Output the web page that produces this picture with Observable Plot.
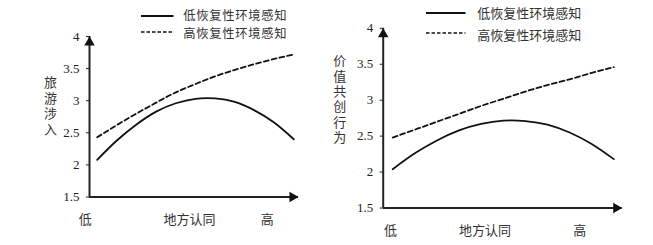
<!DOCTYPE html>
<html><head><meta charset="utf-8">
<script src="https://cdn.jsdelivr.net/npm/d3@7"></script>
<script src="https://cdn.jsdelivr.net/npm/@observablehq/plot@0.6"></script>
<style>
body{margin:0;background:#fff;}
#wrap{position:relative;width:653px;height:245px;overflow:hidden;font-family:"Liberation Serif","Noto Sans CJK SC",serif;color:#333;}
.p{position:absolute;top:0;}
.legline{position:absolute;display:block;}
.legtext{position:absolute;display:flex;align-items:center;height:16px;font-family:"Noto Sans CJK SC",sans-serif;color:#333;white-space:nowrap;}
.yt{position:absolute;writing-mode:vertical-rl;text-orientation:upright;font-size:13px;line-height:14px;font-family:"Noto Sans CJK SC",sans-serif;color:#333;white-space:nowrap;}
</style></head>
<body><div id="wrap"></div>
<script>
// ---- data ----
const identity = [0, 0.1, 0.2, 0.3, 0.4, 0.5, 0.6, 0.7, 0.8, 0.9, 1];
const seriesNames = ["低恢复性环境感知", "高恢复性环境感知"];
const lowLeft   = [2.08, 2.38, 2.63, 2.83, 2.96, 3.03, 3.035, 2.98, 2.85, 2.66, 2.40];
const highLeft  = [2.43, 2.62, 2.80, 2.97, 3.13, 3.26, 3.38, 3.48, 3.57, 3.65, 3.72];
const lowRight  = [2.04, 2.26, 2.44, 2.58, 2.67, 2.715, 2.71, 2.66, 2.55, 2.39, 2.18];
const highRight = [2.48, 2.59, 2.70, 2.81, 2.92, 3.02, 3.12, 3.21, 3.29, 3.38, 3.46];
const yTicks = [1.5, 2, 2.5, 3, 3.5, 4];
const xLabels = ["低", "地方认同", "高"];
const xLabelPosLeft = [-0.06, 0.47, 0.865];
const xLabelPosRight = [-0.01, 0.418, 0.846];
const yTitles = ["旅游涉入", "价值共创行为"];

const wrap = document.getElementById("wrap");

function chart(o) {
  const rows = [];
  identity.forEach((x, i) => {
    rows.push({x, y: o.low[i], s: seriesNames[0]});
    rows.push({x, y: o.high[i], s: seriesNames[1]});
  });
  const labelMap = new Map(o.labelPos.map((p, i) => [p, xLabels[i]]));
  const yDom = [yTicks[0], yTicks[yTicks.length - 1]];
  const svg = Plot.plot({
    width: o.width, height: 245,
    marginLeft: o.ml, marginRight: o.mr, marginTop: o.mt, marginBottom: o.mb,
    style: {fontFamily: "'Liberation Serif',serif", fontSize: "13px", color: "#222", background: "transparent", overflow: "visible"},
    x: {domain: o.xDomain},
    y: {domain: yDom},
    marks: [
      Plot.axisY({ticks: yTicks, tickSize: 3, tickPadding: 7, tickFormat: d => String(d), label: null}),
      Plot.axisX({ticks: o.labelPos, tickSize: 0, tickPadding: 17.5, tickFormat: d => labelMap.get(d), label: null, fontFamily: "'Noto Sans CJK SC',sans-serif", fill: "#333"}),
      Plot.ruleX([o.xDomain[0]], {y1: yDom[0], y2: yDom[1], stroke: "#222", strokeWidth: 2}),
      Plot.ruleY([yDom[0]], {stroke: "#222", strokeWidth: 2}),
      Plot.dot([yDom[1]], {x: () => o.xDomain[0], y: d => d, symbol: "triangle", r: 3.9, fill: "#111", stroke: "none", dy: 6}),
      Plot.dot([o.xDomain[1]], {x: d => d, y: () => yDom[0], symbol: "triangle", r: 3.9, fill: "#111", stroke: "none", rotate: 90, dx: -6}),
      Plot.line(rows.filter(d => d.s === seriesNames[0]), {x: "x", y: "y", curve: "natural", stroke: "#111", strokeWidth: 1.8}),
      Plot.line(rows.filter(d => d.s === seriesNames[1]), {x: "x", y: "y", curve: "natural", stroke: "#111", strokeWidth: 1.8, strokeDasharray: "5,3"})
    ]
  });
  svg.classList.add("p");
  svg.style.left = o.left + "px";
  wrap.appendChild(svg);
}

chart({left: 0, width: 330, ml: 89, mr: 32, mt: 36, mb: 48.5, xDomain: [-0.039, 1.024], low: lowLeft, high: highLeft, labelPos: xLabelPosLeft});
chart({left: 320, width: 333, ml: 62.7, mr: 31.3, mt: 27.8, mb: 37.5, xDomain: [-0.043, 1.038], low: lowRight, high: highRight, labelPos: xLabelPosRight});

function legendRow(x0, len, lineY, tx, textY, dashed, fs, ls) {
  const s = document.createElementNS("http://www.w3.org/2000/svg", "svg");
  s.setAttribute("class", "legline");
  s.setAttribute("width", len);
  s.setAttribute("height", 4);
  s.style.left = x0 + "px";
  s.style.top = (lineY - 2) + "px";
  s.innerHTML = `<line x1="0" x2="${len}" y1="2" y2="2" stroke="#111" stroke-width="${dashed ? 1.6 : 2}" ${dashed ? 'stroke-dasharray="3.5,2"' : ''}/>`;
  wrap.appendChild(s);
  const d = document.createElement("div");
  d.className = "legtext";
  d.style.left = tx + "px";
  d.style.top = (textY - 8) + "px";
  d.style.fontSize = fs + "px";
  d.style.letterSpacing = ls + "px";
  d.textContent = dashed ? seriesNames[1] : seriesNames[0];
  wrap.appendChild(d);
}
legendRow(141, 32.5, 15.7, 183.3, 15, false, 12.3, 0.7);
legendRow(141, 32.5, 32.3, 183.3, 33.2, true, 12.3, 0.7);
legendRow(426, 39.5, 13.3, 477.3, 12, false, 13, 0);
legendRow(426, 39.5, 32.7, 477.3, 34.5, true, 13, 0);

function yTitle(text, cx, firstCy, spacing) {
  const d = document.createElement("div");
  d.className = "yt";
  d.style.left = (cx - 7) + "px";
  d.style.top = (firstCy - 6.5 - spacing / 2) + "px";
  d.style.letterSpacing = spacing + "px";
  d.textContent = text;
  wrap.appendChild(d);
}
yTitle(yTitles[0], 50, 83.3, 2.5);
yTitle(yTitles[1], 339.3, 61.7, 2.3);
</script></body></html>
